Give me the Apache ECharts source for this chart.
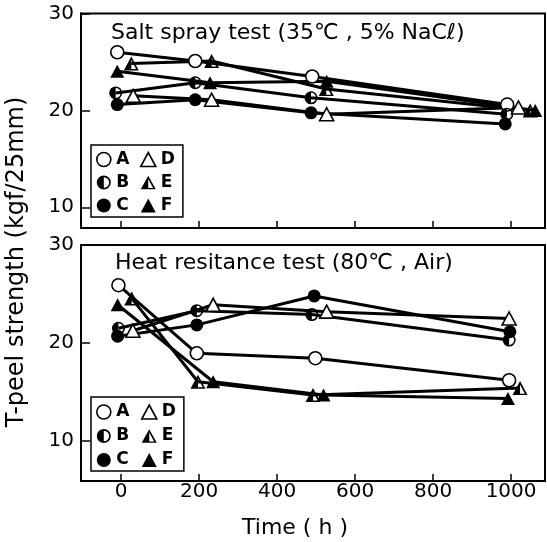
<!DOCTYPE html>
<html>
<head>
<meta charset="utf-8">
<script src="https://cdn.jsdelivr.net/npm/echarts@6/dist/echarts.min.js"></script>
<style>
  html, body { margin: 0; padding: 0; background: #fff; }
  #chart { width: 547px; height: 542px; }
</style>
</head>
<body>
<div id="chart"></div>
<script>
// values: [time (h), T-peel strength (kgf/25mm)]
// markers of one time step are drawn side by side, so times are as plotted
const saltA = [[-10, 26.0], [190, 25.1], [490, 23.5], [990, 20.6]];
const saltB = [[-14, 21.8], [190, 22.85], [487, 21.3], [989, 19.6]];
const saltC = [[-10, 20.6], [190, 21.1], [487, 19.75], [985, 18.6]];
const saltD = [[31, 21.5], [232, 21.1], [527, 19.6], [1019, 20.3]];
const saltE = [[26, 24.85], [232, 25.1], [526, 22.2], [1049, 20.0]];
const saltF = [[-10, 24.05], [228, 22.85], [527, 23.0], [1062, 20.0]];

const heatA = [[-7, 25.9], [194, 18.95], [498, 18.45], [995, 16.2]];
const heatB = [[-7, 21.5], [194, 23.3], [489, 22.9], [995, 20.3]];
const heatC = [[-9, 20.7], [194, 21.85], [495, 24.8], [997, 21.15]];
const heatD = [[30, 21.25], [236, 23.9], [527, 23.2], [995, 22.5]];
const heatE = [[27, 24.55], [197, 16.05], [492, 14.7], [1023, 15.4]];
const heatF = [[-9, 23.9], [236, 16.05], [519, 14.7], [992, 14.35]];

const names = ['A', 'B', 'C', 'D', 'E', 'F'];
const xTicks = [0, 200, 400, 600, 800, 1000];
const yTicks = [10, 20, 30];

const FONT = 'DejaVu Sans';

// half filled marks: outer shape, hole, left half filled
const HALF_CIRCLE = 'path://M10,0A10,10 0 1,1 10,20A10,10 0 1,1 10,0Z' +
  'M10,2.4A7.6,7.6 0 1,0 10,17.6A7.6,7.6 0 1,0 10,2.4Z' +
  'M10,2.4A7.6,7.6 0 0,0 10,17.6Z';
const HALF_TRIANGLE = 'path://M10,0L20,18L0,18Z' +
  'M10,4.4L3.6,16.2L16.4,16.2Z' +
  'M10,4.4L3.6,16.2L10,16.2Z';

const OPEN = { color: '#fff', borderColor: '#000', borderWidth: 1.6 };
const SOLID = { color: '#000', borderWidth: 0 };

const marks = {
  A: { symbol: 'circle', size: 13, style: OPEN },
  B: { symbol: HALF_CIRCLE, size: 13, style: SOLID },
  C: { symbol: 'circle', size: 13, style: SOLID },
  D: { symbol: 'triangle', size: [14, 13], style: OPEN },
  E: { symbol: HALF_TRIANGLE, size: [15, 14], style: SOLID },
  F: { symbol: 'triangle', size: [14, 13], style: SOLID }
};

const makeSeries = (name, data, idx) => ({
  type: 'line',
  name: name,
  data: data,
  xAxisIndex: idx,
  yAxisIndex: idx,
  symbol: marks[name].symbol,
  symbolSize: marks[name].size,
  itemStyle: marks[name].style,
  lineStyle: { color: '#000', width: 3 },
  emphasis: { disabled: true },
  animation: false
});

const makeLegend = (top, gap, padding) => ({
  orient: 'vertical',
  left: 91,
  top: top,
  height: 75,
  itemGap: gap,
  itemWidth: 15,
  itemHeight: 14,
  padding: padding,
  borderColor: '#000',
  borderWidth: 1.5,
  borderRadius: 0,
  selectedMode: false,
  textStyle: {
    fontFamily: FONT, fontSize: 17, fontWeight: 'bold', color: '#000',
    lineHeight: 17, padding: [0, 5, 0, 0]
  },
  data: names.map(n => ({
    name: n,
    icon: marks[n].symbol,
    itemStyle: marks[n].style
  }))
});

const makeXAxis = (idx, showLabel) => ({
  type: 'value',
  gridIndex: idx,
  min: -103,
  max: 1087,
  axisLine: { onZero: false, lineStyle: { color: '#000', width: 2 } },
  axisTick: { inside: true, length: 7, lineStyle: { color: '#000', width: 1.5 }, customValues: xTicks },
  axisLabel: {
    show: showLabel, customValues: xTicks, margin: 1,
    formatter: v => String(v),
    fontFamily: FONT, fontSize: 20, color: '#000'
  },
  splitLine: { show: false }
});

const makeYAxis = (idx, min) => ({
  type: 'value',
  gridIndex: idx,
  min: min,
  max: 30,
  axisLine: { show: true, onZero: false, lineStyle: { color: '#000', width: 2 } },
  axisTick: { show: true, inside: true, length: 9, lineStyle: { color: '#000', width: 1.5 }, customValues: yTicks },
  axisLabel: { customValues: yTicks, margin: 7, fontFamily: FONT, fontSize: 20, color: '#000' },
  splitLine: { show: false }
});

const chart = echarts.init(document.getElementById('chart'), null, { renderer: 'canvas' });

chart.setOption({
  backgroundColor: '#fff',
  animation: false,
  title: [
    {
      text: 'Salt spray test (35℃ , 5% NaCℓ)',
      left: 111, top: 22, padding: 0,
      textStyle: { fontFamily: FONT, fontSize: 22, fontWeight: 'normal', color: '#000' }
    },
    {
      text: 'Heat resitance test (80℃ , Air)',
      left: 115, top: 252, padding: 0,
      textStyle: { fontFamily: FONT, fontSize: 22, fontWeight: 'normal', color: '#000' }
    }
  ],
  grid: [
    { left: 81, top: 13.5, right: 2, height: 214.5, show: true, borderColor: '#000', borderWidth: 2 },
    { left: 81, top: 245, right: 2, height: 236, show: true, borderColor: '#000', borderWidth: 2 }
  ],
  xAxis: [makeXAxis(0, false), makeXAxis(1, true)],
  yAxis: [makeYAxis(0, 7.86), makeYAxis(1, 5.92)],
  legend: [
    makeLegend(145, 6, [6, 3, 3, 5]),
    makeLegend(397, 7, [6.5, 3, 2.5, 5])
  ],
  graphic: [
    {
      type: 'text', x: 17, y: 262, rotation: Math.PI / 2,
      style: {
        text: 'T-peel strength (kgf/25mm)', fill: '#000',
        font: '24px "DejaVu Sans"', align: 'center', verticalAlign: 'middle'
      }
    },
    {
      type: 'text', x: 295, y: 528,
      style: {
        text: 'Time ( h )', fill: '#000',
        font: '22px "DejaVu Sans"', align: 'center', verticalAlign: 'middle'
      }
    }
  ],
  series: [
    makeSeries('A', saltA, 0),
    makeSeries('B', saltB, 0),
    makeSeries('C', saltC, 0),
    makeSeries('D', saltD, 0),
    makeSeries('E', saltE, 0),
    makeSeries('F', saltF, 0),
    makeSeries('A', heatA, 1),
    makeSeries('B', heatB, 1),
    makeSeries('C', heatC, 1),
    makeSeries('D', heatD, 1),
    makeSeries('E', heatE, 1),
    makeSeries('F', heatF, 1)
  ]
});
</script>
</body>
</html>
